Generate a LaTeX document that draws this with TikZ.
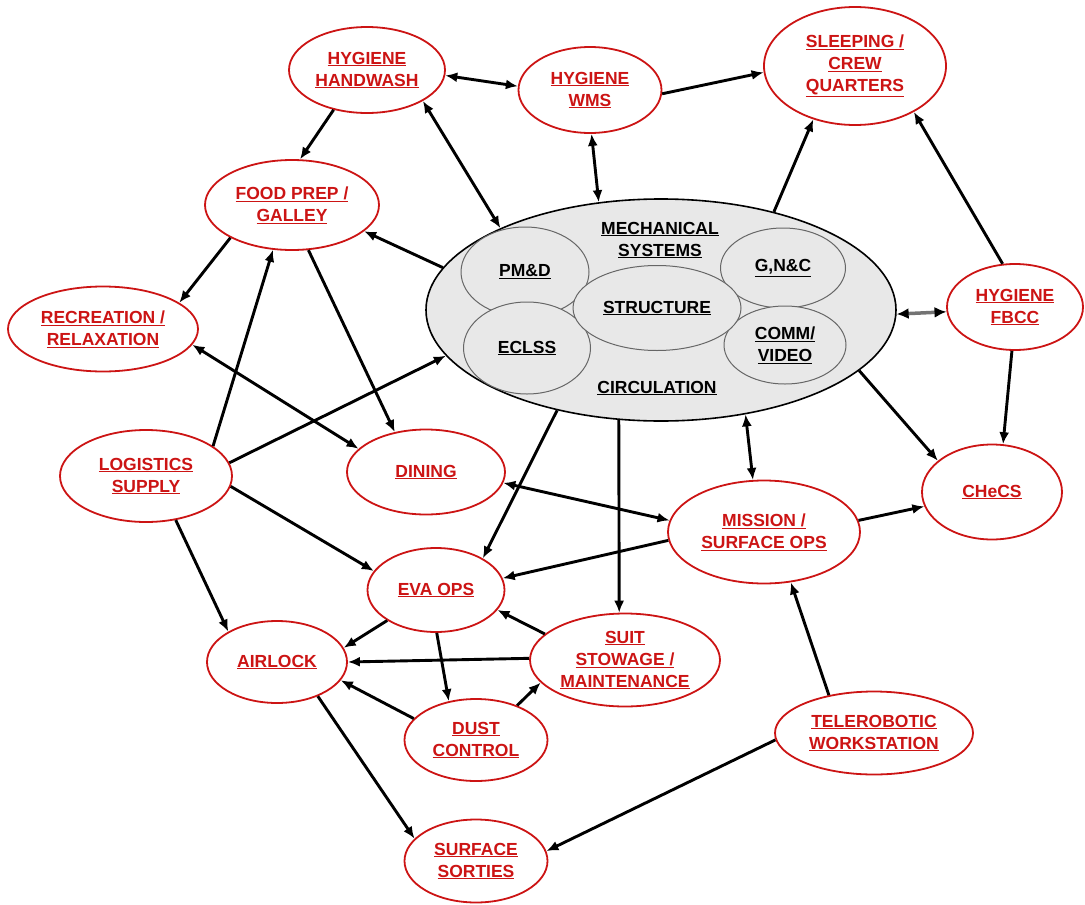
\documentclass[tikz,border=0pt]{standalone}
\usepackage{fontspec}
\setmainfont{Liberation Sans}
\usetikzlibrary{arrows.meta,shapes.geometric}
\definecolor{bubred}{HTML}{CC1414}
\definecolor{mechgray}{HTML}{E8E8E8}
\newcommand{\ulbl}[1]{\underline{#1}}

\begin{document}
\begin{tikzpicture}[x=1pt, y=-1pt,
        bubble/.style={ellipse, draw=bubred, line width=1.8pt, fill=white, inner sep=0pt,
                align=center, text=bubred, font=\fontsize{17.5}{22}\selectfont\bfseries},
        subsys/.style={ellipse, draw=black!60, line width=1pt, fill=mechgray, inner sep=0pt,
                align=center, font=\fontsize{17.5}{22}\selectfont\bfseries},
        plain/.style={align=center, inner sep=0pt, font=\fontsize{17.5}{22}\selectfont\bfseries},
        link/.style={line width=2.9pt, -{Latex[length=12pt,width=10pt]}},
        twoway/.style={line width=2.9pt, {Latex[length=12pt,width=10pt]}-{Latex[length=12pt,width=10pt]}}]
        \useasboundingbox (0,0) rectangle (1085,905);

        % mechanical systems hub
        \node[ellipse, draw=black, line width=1.6pt, fill=mechgray, minimum width=470pt, minimum height=222pt] (mech) at (661,310) {};
        \node[subsys, minimum width=128pt, minimum height=90pt] (pmd) at (525,272) {\ulbl{PM\&D}};
        \node[subsys, minimum width=125pt, minimum height=80pt] (gnc) at (783,268) {\ulbl{G,N\&C}};
        \node[subsys, minimum width=127pt, minimum height=92pt] (eclss) at (527,348) {\ulbl{ECLSS}};
        \node[subsys, minimum width=122pt, minimum height=78pt] (comm) at (785,345) {\ulbl{COMM/}\\\ulbl{VIDEO}};
        \node[subsys, minimum width=168pt, minimum height=85pt] (struct) at (657,308) {\ulbl{STRUCTURE}};
        \node[plain] (mechlbl) at (660,240) {\ulbl{MECHANICAL}\\\ulbl{SYSTEMS}};
        \node[plain] (circ) at (657,388) {\ulbl{CIRCULATION}};

        % functional areas
        \node[bubble, minimum width=156pt, minimum height=86pt] (hw) at (367,70) {\ulbl{HYGIENE}\\\ulbl{HANDWASH}};
        \node[bubble, minimum width=143pt, minimum height=86pt] (wms) at (590,90) {\ulbl{HYGIENE}\\\ulbl{WMS}};
        \node[bubble, minimum width=182pt, minimum height=118pt] (sleep) at (855,66) {\ulbl{SLEEPING /}\\\ulbl{CREW}\\\ulbl{QUARTERS}};
        \node[bubble, minimum width=174pt, minimum height=90pt] (food) at (292,205) {\ulbl{FOOD PREP /}\\\ulbl{GALLEY}};
        \node[bubble, minimum width=190pt, minimum height=85pt] (rec) at (103,329) {\ulbl{RECREATION /}\\\ulbl{RELAXATION}};
        \node[bubble, minimum width=136pt, minimum height=86pt] (fbcc) at (1015,307) {\ulbl{HYGIENE}\\\ulbl{FBCC}};
        \node[bubble, minimum width=172pt, minimum height=92pt] (log) at (146,476) {\ulbl{LOGISTICS}\\\ulbl{SUPPLY}};
        \node[bubble, minimum width=158pt, minimum height=85pt] (dining) at (426,472) {\ulbl{DINING}};
        \node[bubble, minimum width=192pt, minimum height=103pt] (mission) at (764,532) {\ulbl{MISSION /}\\\ulbl{SURFACE OPS}};
        \node[bubble, minimum width=140pt, minimum height=95pt] (checs) at (992,492) {\ulbl{CHeCS}};
        \node[bubble, minimum width=137pt, minimum height=84pt] (eva) at (436,590) {\ulbl{EVA OPS}};
        \node[bubble, minimum width=190pt, minimum height=93pt] (suit) at (625,660) {\ulbl{SUIT}\\\ulbl{STOWAGE /}\\\ulbl{MAINTENANCE}};
        \node[bubble, minimum width=140pt, minimum height=82pt] (airlock) at (277,662) {\ulbl{AIRLOCK}};
        \node[bubble, minimum width=143pt, minimum height=82pt] (dust) at (476,740) {\ulbl{DUST}\\\ulbl{CONTROL}};
        \node[bubble, minimum width=198pt, minimum height=83pt] (telerob) at (874,733) {\ulbl{TELEROBOTIC}\\\ulbl{WORKSTATION}};
        \node[bubble, minimum width=143pt, minimum height=83pt] (sorties) at (476,861) {\ulbl{SURFACE}\\\ulbl{SORTIES}};

        % connections
        \draw[twoway] (hw.-4) -- (wms.177);
        \draw[link] (wms.-3) -- (sleep.184);
        \draw[link] (hw.230) -- (food.80);
        \draw[twoway] (hw.-29) -- (mech.153);
        \draw[twoway] (wms.272) -- (mech.120);
        \draw[link] (mech.41) -- (sleep.232);
        \draw[link] (fbcc.106) -- (sleep.-38);
        \draw[link] (mech.169) -- (food.-20);
        \draw[link] (food.208) -- (rec.19);
        \draw[link] (log.24) -- (food.247);
        \draw[link] (food.290) -- (dining.128);
        \draw[link] (log.9) -- (mech.192);
        \draw[twoway] (rec.-10) -- (dining.161);
        \draw[link] (log.-7) -- (eva.163);
        \draw[link] (log.-56) -- (airlock.148);
        \draw[link] (mech.224) -- (eva.34);
        \draw[link] (mech.249) -- (suit.97);
        \draw[twoway] (mech.309) -- (mission.102);
        \draw[link] (mech.343) -- (checs.150);
        \draw[twoway, draw=black!55, line width=3.5pt,
                {Latex[length=12pt,width=11pt,color=black]}-{Latex[length=12pt,width=11pt,color=black]}] (mech.-1) -- (fbcc.184);
        \draw[link] (fbcc.266) -- (checs.77);
        \draw[twoway] (dining.-8) -- (mission.173);
        \draw[link] (mission.185) -- (eva.10);
        \draw[link] (mission.7) -- (checs.192);
        \draw[link] (telerob.140) -- (mission.-62);
        \draw[link] (telerob.184) -- (sorties.8);
        \draw[link] (eva.212) -- (airlock.12);
        \draw[link] (suit.179) -- (airlock.0);
        \draw[link] (suit.162) -- (eva.-18);
        \draw[link] (eva.271) -- (dust.125);
        \draw[link] (dust.161) -- (airlock.-16);
        \draw[link] (dust.40) -- (suit.195);
        \draw[link] (airlock.-40) -- (sorties.160);
\end{tikzpicture}
\end{document}
